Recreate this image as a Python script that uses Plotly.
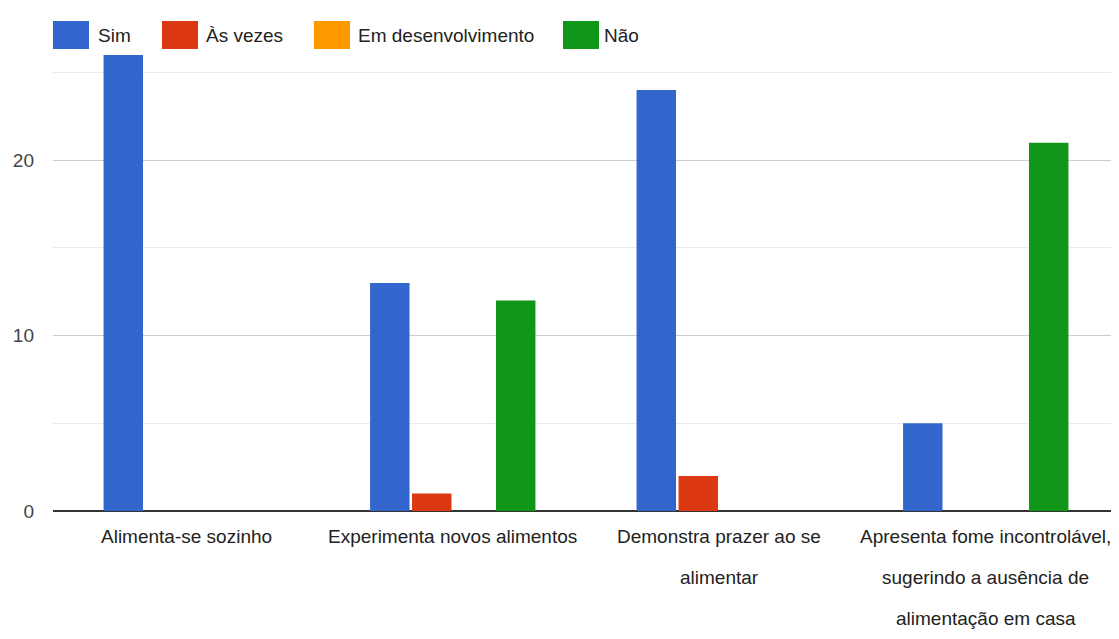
import plotly.graph_objects as go

categories = [
    "Alimenta-se sozinho",
    "Experimenta novos alimentos",
    "Demonstra prazer ao se<br>alimentar",
    "Apresenta fome incontrolável,<br>sugerindo a ausência de<br>alimentação em casa",
]
sim = [26, 13, 24, 5]
as_vezes = [0, 1, 2, 0]
em_desenvolvimento = [0, 0, 0, 0]
nao = [0, 12, 0, 21]
y_ticks = [0, 10, 20]

series_names = ["Sim", "Às vezes", "Em desenvolvimento", "Não"]
series_values = [sim, as_vezes, em_desenvolvimento, nao]
series_colors = ["#3366cc", "#dc3912", "#ff9900", "#109618"]

FONT = "Liberation Sans, Arial, sans-serif"
FS = 19
OFF = 8  # page body margin
W, H = 1119 - OFF, 639 - OFF
ML, MR, MT = 53 - OFF, 0, 55 - OFF
MB = H - (511 - OFF)

fig = go.Figure()
for name, vals, color in zip(series_names, series_values, series_colors):
    fig.add_trace(go.Bar(name=name, x=categories, y=vals, marker_color=color,
                         marker_line_width=0, showlegend=False))

# Custom legend (square swatches + labels), given in screen pixels
legend_swatch_x = [53, 162, 314, 563]
legend_text_x = [99, 207, 359, 605]
pw = W - ML - MR
ph = H - MT - MB
def px_x(px):
    return (px - OFF - ML) / pw
def px_y(py):
    return (H - MB - (py - OFF)) / ph

shapes = []
annotations = []
for name, color, sx, tx in zip(series_names, series_colors, legend_swatch_x, legend_text_x):
    shapes.append(dict(type="rect", xref="paper", yref="paper",
                       x0=px_x(sx), x1=px_x(sx + 36), y0=px_y(49), y1=px_y(21),
                       fillcolor=color, line=dict(width=0), layer="above"))
    annotations.append(dict(text=name, xref="paper", yref="paper",
                            x=px_x(tx - 3), y=px_y(35), xanchor="left", yanchor="middle",
                            showarrow=False, font=dict(family=FONT, size=FS, color="#222222")))

# Category labels, one annotation per line for the wider line spacing of the reference
for cat in categories:
    for i, line in enumerate(cat.split("<br>")):
        annotations.append(dict(text=line, xref="x", yref="paper", x=cat, y=0,
                                yanchor="top", xanchor="center", yshift=-13 - i * 41,
                                showarrow=False,
                                font=dict(family=FONT, size=FS, color="#222222")))

fig.update_layout(
    width=W, height=H,
    margin=dict(l=ML, r=MR, t=MT, b=MB, autoexpand=False),
    paper_bgcolor="white", plot_bgcolor="white",
    barmode="group", bargap=0.37, bargroupgap=0.06,
    font=dict(family=FONT, size=FS, color="#222222"),
    showlegend=False,
    shapes=shapes, annotations=annotations,
)
fig.update_yaxes(
    range=[0, 26], tickvals=y_ticks, showgrid=True, gridcolor="#cccccc",
    gridwidth=1, zeroline=True, zerolinecolor="#333333", zerolinewidth=2,
    tickfont=dict(family=FONT, size=FS, color="#444444"), ticks="", ticklabelstandoff=18,
    minor=dict(dtick=5, tick0=0, showgrid=True, gridcolor="#ebebeb", gridwidth=1),
    automargin=False, fixedrange=True,
)
fig.update_xaxes(showticklabels=False, ticks="", showline=False, automargin=False)

fig.write_html("out.html")
